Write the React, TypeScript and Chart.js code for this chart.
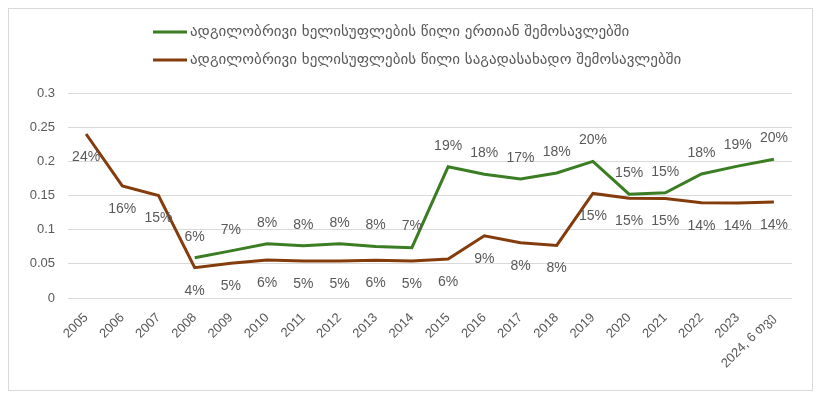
import React, { useEffect, useRef } from "react";
import { Chart, registerables } from "chart.js";

Chart.register(...registerables);

const categories = [
  "2005", "2006", "2007", "2008", "2009", "2010", "2011", "2012", "2013", "2014",
  "2015", "2016", "2017", "2018", "2019", "2020", "2021", "2022", "2023", "2024, 6 თვე",
];

const totalShare: (number | null)[] = [
  null, null, null, 0.059, 0.069, 0.0795, 0.0766, 0.0795, 0.0755, 0.0737,
  0.192, 0.181, 0.174, 0.183, 0.2, 0.152, 0.154, 0.1815, 0.193, 0.203,
];

const taxShare: number[] = [
  0.24, 0.164, 0.15, 0.0444, 0.051, 0.0556, 0.054, 0.054, 0.0552, 0.054,
  0.057, 0.091, 0.081, 0.077, 0.153, 0.146, 0.1455, 0.1395, 0.139, 0.1405,
];

const yTicks = [0, 0.05, 0.1, 0.15, 0.2, 0.25, 0.3];

const seriesNames = [
  "ადგილობრივი ხელისუფლების წილი ერთიან შემოსავლებში",
  "ადგილობრივი ხელისუფლების წილი საგადასახადო შემოსავლებში",
];

const GREEN = "#3b7d23";
const BROWN = "#843c0c";
const LABEL_COLOR = "#595959";

const labelPlugin = {
  id: "pctLabels",
  afterDatasetsDraw(chart: any) {
    const ctx = chart.ctx;
    ctx.save();
    ctx.font = "14px 'Liberation Sans', Arial, sans-serif";
    ctx.fillStyle = LABEL_COLOR;
    ctx.textAlign = "center";
    ctx.textBaseline = "middle";
    chart.data.datasets.forEach((ds: any, di: number) => {
      const meta = chart.getDatasetMeta(di);
      meta.data.forEach((pt: any, i: number) => {
        const v = ds.data[i];
        if (v === null || v === undefined) return;
        const dy = di === 0 ? -21 : 23;
        ctx.fillText(Math.round(v * 100) + "%", pt.x, pt.y + dy);
      });
    });
    ctx.restore();
  },
};

const legendPlugin = {
  id: "customLegend",
  afterDraw(chart: any) {
    const ctx = chart.ctx;
    ctx.save();
    const colors = [GREEN, BROWN];
    const ys = [23, 51];
    ctx.font = "15px 'DejaVu Sans', sans-serif";
    ctx.fillStyle = LABEL_COLOR;
    ctx.textBaseline = "middle";
    ctx.textAlign = "left";
    seriesNames.forEach((name, i) => {
      ctx.strokeStyle = colors[i];
      ctx.lineWidth = 3;
      ctx.beginPath();
      ctx.moveTo(144, ys[i]);
      ctx.lineTo(178, ys[i]);
      ctx.stroke();
      ctx.fillText(name, 181, ys[i]);
    });
    ctx.restore();
  },
};

export default function App() {
  const ref = useRef<HTMLCanvasElement>(null);
  useEffect(() => {
    if (!ref.current) return;
    const chart = new Chart(ref.current, {
      type: "line",
      data: {
        labels: categories,
        datasets: [
          {
            label: seriesNames[0],
            data: totalShare,
            borderColor: GREEN,
            backgroundColor: GREEN,
            borderWidth: 3,
            pointRadius: 0,
            tension: 0,
            spanGaps: false,
          },
          {
            label: seriesNames[1],
            data: taxShare,
            borderColor: BROWN,
            backgroundColor: BROWN,
            borderWidth: 3,
            pointRadius: 0,
            tension: 0,
          },
        ],
      },
      options: {
        animation: false,
        responsive: false,
        maintainAspectRatio: false,
        layout: { padding: { top: 84, right: 20, left: 0, bottom: 0 } },
        plugins: {
          legend: { display: false },
          tooltip: { enabled: false },
        },
        scales: {
          x: {
            offset: true,
            grid: { display: false },
            border: { display: false },
            ticks: {
              color: LABEL_COLOR,
              font: { family: "'Liberation Sans', Arial, sans-serif", size: 13 },
              minRotation: 45,
              maxRotation: 45,
              autoSkip: false,
              padding: 4,
            },
            afterFit: (s: any) => {
              s.height = 92;
            },
          },
          y: {
            min: 0,
            max: 0.3,
            afterBuildTicks: (s: any) => {
              s.ticks = yTicks.map((v) => ({ value: v }));
            },
            grid: { color: "#d9d9d9", lineWidth: 1, drawTicks: false },
            border: { display: false },
            ticks: {
              color: LABEL_COLOR,
              font: { family: "'Liberation Sans', Arial, sans-serif", size: 13 },
              padding: 13,
              callback: (v: any) => String(Number(Number(v).toFixed(2))),
            },
            afterFit: (s: any) => {
              s.width = 59;
            },
          },
        },
      },
      plugins: [labelPlugin, legendPlugin],
    });
    return () => chart.destroy();
  }, []);
  return (
    <div
      style={{
        width: 805,
        height: 383,
        boxSizing: "border-box",
        border: "1px solid #d9d9d9",
        background: "#fff",
      }}
    >
      <canvas ref={ref} width={803} height={381} style={{ display: "block" }} />
    </div>
  );
}
